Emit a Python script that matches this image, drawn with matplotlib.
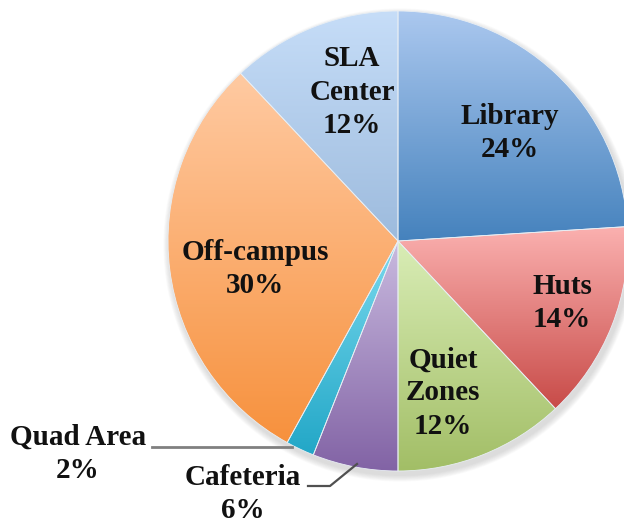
import matplotlib
matplotlib.use("Agg")
import matplotlib.pyplot as plt
import numpy as np
from matplotlib.colors import LinearSegmentedColormap
from matplotlib.patches import Circle

# slices, clockwise from 12 o'clock
labels = ["Library", "Huts", "Quiet\nZones", "Cafeteria", "Quad Area", "Off-campus", "SLA\nCenter"]
shares = [24, 14, 12, 6, 2, 30, 12]
tops = ["#abc8ef", "#fbb1b0", "#d9edb6", "#c9badf", "#7ad9ee", "#ffcaa2", "#c6ddf8"]
bottoms = ["#4582bd", "#c84b48", "#a2be66", "#8263a5", "#22a7c7", "#f7913d", "#9dbbdd"]

# label placement (pixels) - layout only
label_xy = [(510, 133), (562, 303), (443, 393), (243, 494), (78, 454), (255, 269), (352, 92)]

W, H = 624, 523
cx, cy, R = 398, H - 241, 230

fig = plt.figure(figsize=(W / 100, H / 100), dpi=100)
ax = fig.add_axes([0, 0, 1, 1])

# soft shadow under the pie
for k in range(8):
    ax.add_patch(Circle((cx + 2, cy - 4), R + 1 + k * 0.8, color="#808080",
                        alpha=0.035, lw=0, zorder=0))

wedges, _ = ax.pie(shares, startangle=90, counterclock=False, radius=R,
                   center=(cx, cy), frame=True,
                   wedgeprops=dict(linewidth=0.6, edgecolor="#e8eef4"))

for w, c0, c1 in zip(wedges, tops, bottoms):
    th = np.radians(np.linspace(w.theta1, w.theta2, 200))
    xs = np.concatenate([[cx], cx + R * np.cos(th)])
    ys = np.concatenate([[cy], cy + R * np.sin(th)])
    cmap = LinearSegmentedColormap.from_list("g", [c1, c0])
    grad = np.linspace(0, 1, 256).reshape(-1, 1)
    im = ax.imshow(grad, extent=(xs.min(), xs.max(), ys.min(), ys.max()),
                   origin="lower", cmap=cmap, aspect="auto", zorder=1)
    im.set_clip_path(w)
    w.set_facecolor("none")
    w.set_zorder(2)

for lab, s, (x, y) in zip(labels, shares, label_xy):
    ax.text(x, H - y, f"{lab}\n{s}%", ha="center", va="center",
            fontsize=21, fontweight="bold", family="Liberation Serif",
            linespacing=1.3, color="#111111", zorder=5)

# leader lines for the small slices
ax.plot([152, 292], [H - 447, H - 447], color="#808080", lw=2, zorder=3)
ax.plot([308, 330, 357], [H - 486, H - 486, H - 464], color="#505050", lw=1.6, zorder=3)

ax.set_xlim(0, W)
ax.set_ylim(0, H)
ax.axis("off")

fig.savefig("out.png", dpi=100)
